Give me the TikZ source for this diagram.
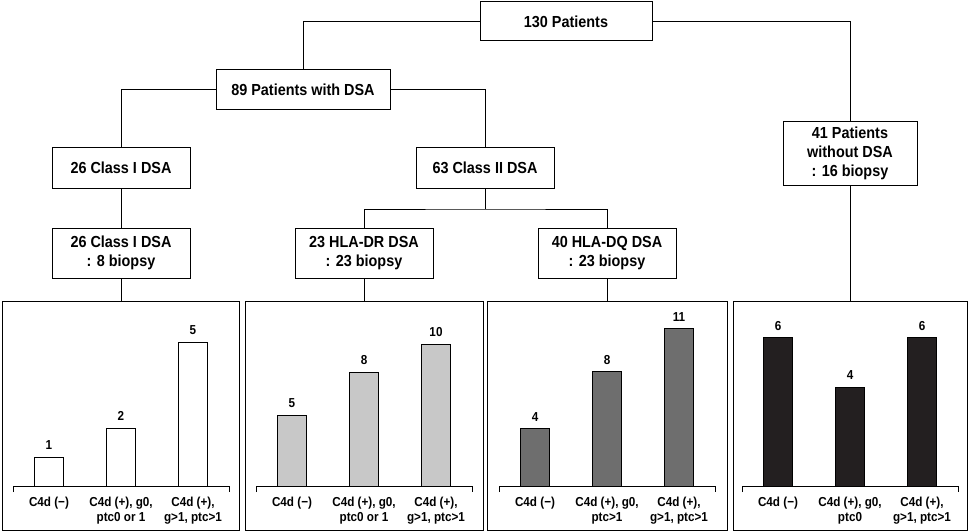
\documentclass[tikz,border=0pt]{standalone}
\usepackage{fontspec}
\setmainfont{Liberation Sans}[FakeStretch=0.9]
\usepackage{tikz}
\usetikzlibrary{positioning}
\definecolor{lightbar}{RGB}{200,200,200}
\definecolor{darkbar}{RGB}{110,110,110}
\definecolor{blackbar}{RGB}{35,31,32}

\begin{document}
\begin{tikzpicture}[
    x=1pt, y=-1pt,
    box/.style={rectangle, draw, line width=1pt, minimum width=138pt, minimum height=40pt,
                align=center, inner sep=0pt, font=\fontsize{16}{19}\selectfont\bfseries},
    panel/.style={rectangle, draw, line width=1pt, minimum height=229pt, inner sep=0pt},
    link/.style={line width=1pt},
    bar/.style={draw, line width=1pt},
    num/.style={font=\fontsize{13}{15}\selectfont\bfseries, inner sep=0pt},
    cat/.style={font=\fontsize{13}{15}\selectfont\bfseries, align=center, anchor=north, inner sep=0pt},
]
    \useasboundingbox (0,0) rectangle (969,532);

    % tree of boxes
    \node[box, minimum width=172pt, minimum height=39pt] (top) at (566,21.5) {130 Patients};
    \node[box, minimum width=174pt] (dsa) at (303,90) {89 Patients with DSA};
    \node[box] (clsI) at (121,168) {26 Class I DSA};
    \node[box] (clsII) at (485,168) {63 Class II DSA};
    \node[box, minimum width=134pt, minimum height=63pt] (nodsa) at (850,153.5) {41 Patients\\without DSA\\: 16 biopsy};
    \node[box, minimum height=50pt] (clsIb) at (121,253) {26 Class I DSA\\: 8 biopsy};
    \node[box, minimum height=50pt] (dr) at (364,253) {23 HLA-DR DSA\\: 23 biopsy};
    \node[box, minimum height=50pt] (dq) at (607,253) {40 HLA-DQ DSA\\: 23 biopsy};
    \coordinate (split) at (485,209);

    % chart panels
    \node[panel, minimum width=237pt] (pan1) at (121,415.5) {};
    \node[panel, minimum width=238pt] (pan2) at (364,415.5) {};
    \node[panel, minimum width=240pt] (pan3) at (607,415.5) {};
    \node[panel, minimum width=234pt] (pan4) at (850,415.5) {};

    \draw[link] (top.west) -| (dsa.north);
    \draw[link] (top.east) -| (nodsa.north);
    \draw[link] (dsa.west) -| (clsI.north);
    \draw[link] (dsa.east) -| (clsII.north);
    \draw[link] (clsI.south) -- (clsIb.north);
    \draw[link] (clsII.south) -- (split);
    \draw[link] (dr.north) |- (split) -| (dq.north);
    \draw[link] (clsIb.south) -- (pan1.north);
    \draw[link] (dr.south) -- (pan2.north);
    \draw[link] (dq.south) -- (pan3.north);
    \draw[link] (nodsa.south) -- (pan4.north);

    % panel 1
    \draw[link] (13,492) -- (13,486) -- (229,486) -- (229,492);
    \foreach \x/\v/\lab [count=\i] in {49/1/{C4d (−)}, 121/2/{C4d (+), g0,\\ptc0 or 1}, 193/5/{C4d (+),\\g>1, ptc>1}} {
        \draw[bar, fill=white] (\x-14.5,486) rectangle (\x+14.5,486-28.8*\v);
        \node[num] (na\i) at (\x,486-28.8*\v-12) {\v};
        \node[cat] (ca\i) at (\x,497) {\lab};
    }

    % panel 2
    \draw[link] (256,492) -- (256,486) -- (472,486) -- (472,492);
    \foreach \x/\v/\lab [count=\i] in {292/5/{C4d (−)}, 364/8/{C4d (+), g0,\\ptc0 or 1}, 436/10/{C4d (+),\\g>1, ptc>1}} {
        \draw[bar, fill=lightbar] (\x-14.5,486) rectangle (\x+14.5,486-14.2*\v);
        \node[num] (nb\i) at (\x,486-14.2*\v-12) {\v};
        \node[cat] (cb\i) at (\x,497) {\lab};
    }

    % panel 3
    \draw[link] (499,492) -- (499,486) -- (715,486) -- (715,492);
    \foreach \x/\v/\lab [count=\i] in {535/4/{C4d (−)}, 607/8/{C4d (+), g0,\\ptc>1}, 679/11/{C4d (+),\\g>1, ptc>1}} {
        \draw[bar, fill=darkbar] (\x-14.5,486) rectangle (\x+14.5,486-14.3*\v);
        \node[num] (nc\i) at (\x,486-14.3*\v-12) {\v};
        \node[cat] (cc\i) at (\x,497) {\lab};
    }

    % panel 4
    \draw[link] (742,492) -- (742,486) -- (958,486) -- (958,492);
    \foreach \x/\v/\lab [count=\i] in {778/6/{C4d (−)}, 850/4/{C4d (+), g0,\\ptc0}, 922/6/{C4d (+),\\g>1, ptc>1}} {
        \draw[bar, fill=blackbar] (\x-14.5,486) rectangle (\x+14.5,486-24.7*\v);
        \node[num] (nd\i) at (\x,486-24.7*\v-12) {\v};
        \node[cat] (cd\i) at (\x,497) {\lab};
    }
\end{tikzpicture}
\end{document}
